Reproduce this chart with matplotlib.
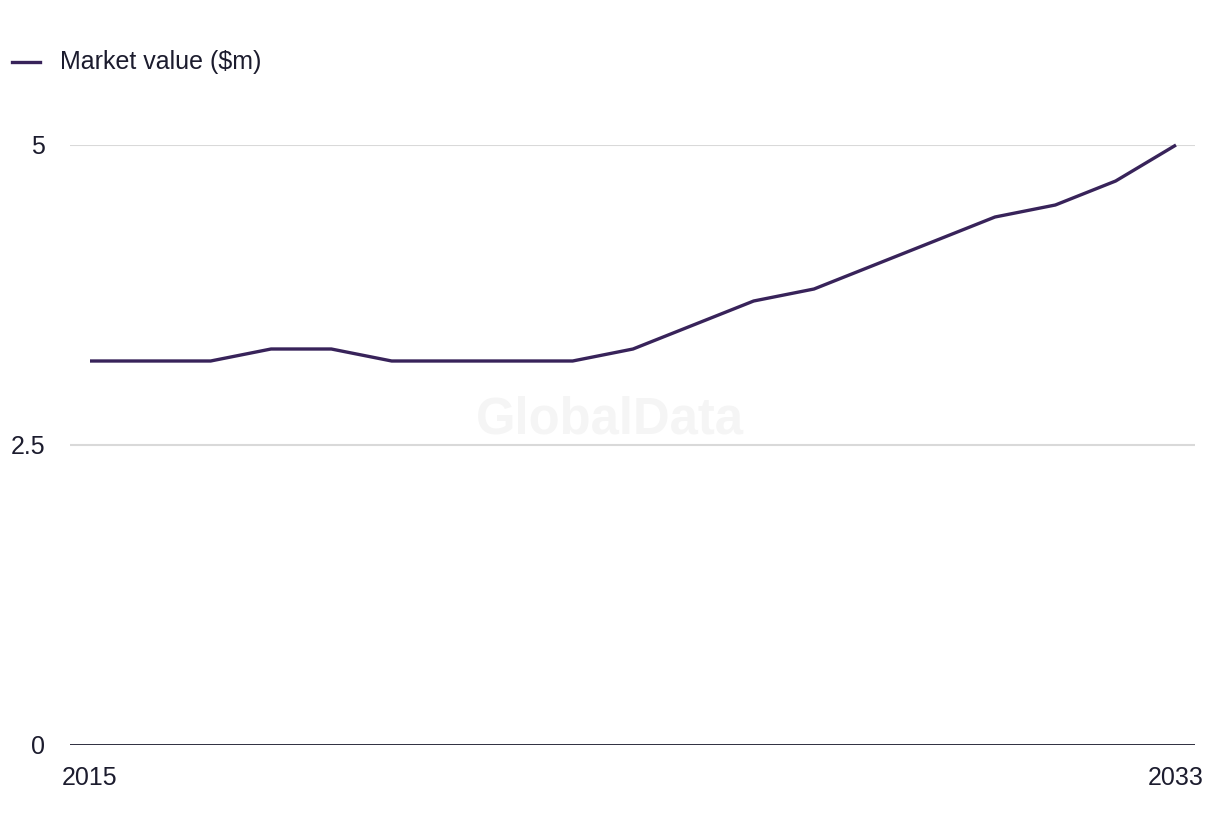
import matplotlib
matplotlib.use("Agg")
import matplotlib.pyplot as plt

plt.rcParams['font.family'] = ['Liberation Sans', 'DejaVu Sans']

years = list(range(2015, 2034))
market_value = [3.2, 3.2, 3.2, 3.3, 3.3, 3.2, 3.2, 3.2, 3.2, 3.3,
                3.5, 3.7, 3.8, 4.0, 4.2, 4.4, 4.5, 4.7, 5.0]
y_ticks = [0, 2.5, 5]
y_labels = ['0', '2.5', '5']
x_ticks = [2015, 2033]
series_name = 'Market value ($m)'

LINE = '#38235a'
TEXT = '#1c1c2e'
GRID = '#d9d9d9'

fig = plt.figure(figsize=(12.2, 8.36), dpi=100)
ax = fig.add_axes([70 / 1220, 91 / 836, 1125 / 1220, 600 / 836])

for t in y_ticks[1:]:
    ax.axhline(t, color=GRID, lw=1.5, zorder=1)
ax.axhline(0, color=TEXT, lw=2, zorder=2)

ax.plot(years, market_value, color=LINE, lw=2.4, clip_on=False, zorder=3,
        solid_capstyle='butt')

ax.set_xlim(2015 - 20 / 60.33, 2033 + 19 / 60.33)
ax.set_ylim(0, 5)
ax.set_yticks(y_ticks)
ax.set_yticklabels(y_labels)
ax.set_xticks(x_ticks)
ax.tick_params(axis='both', length=0, labelsize=18, labelcolor=TEXT)
ax.tick_params(axis='y', pad=18)
ax.tick_params(axis='x', pad=15)
for s in ax.spines.values():
    s.set_visible(False)

# watermark
fig.text(610 / 1220, 1 - 420 / 836, 'GlobalData', fontsize=36.5, fontweight='bold',
         color='#f5f5f5', ha='center', va='center', zorder=0)

# legend
fig.lines.append(plt.Line2D([12 / 1220, 40 / 1220], [1 - 62 / 836, 1 - 62 / 836],
                            color=LINE, lw=2.4, transform=fig.transFigure))
fig.text(60 / 1220, 1 - 62 / 836, series_name, fontsize=18, color=TEXT,
         ha='left', va='center')

fig.savefig('out.png', dpi=100, facecolor='white')
